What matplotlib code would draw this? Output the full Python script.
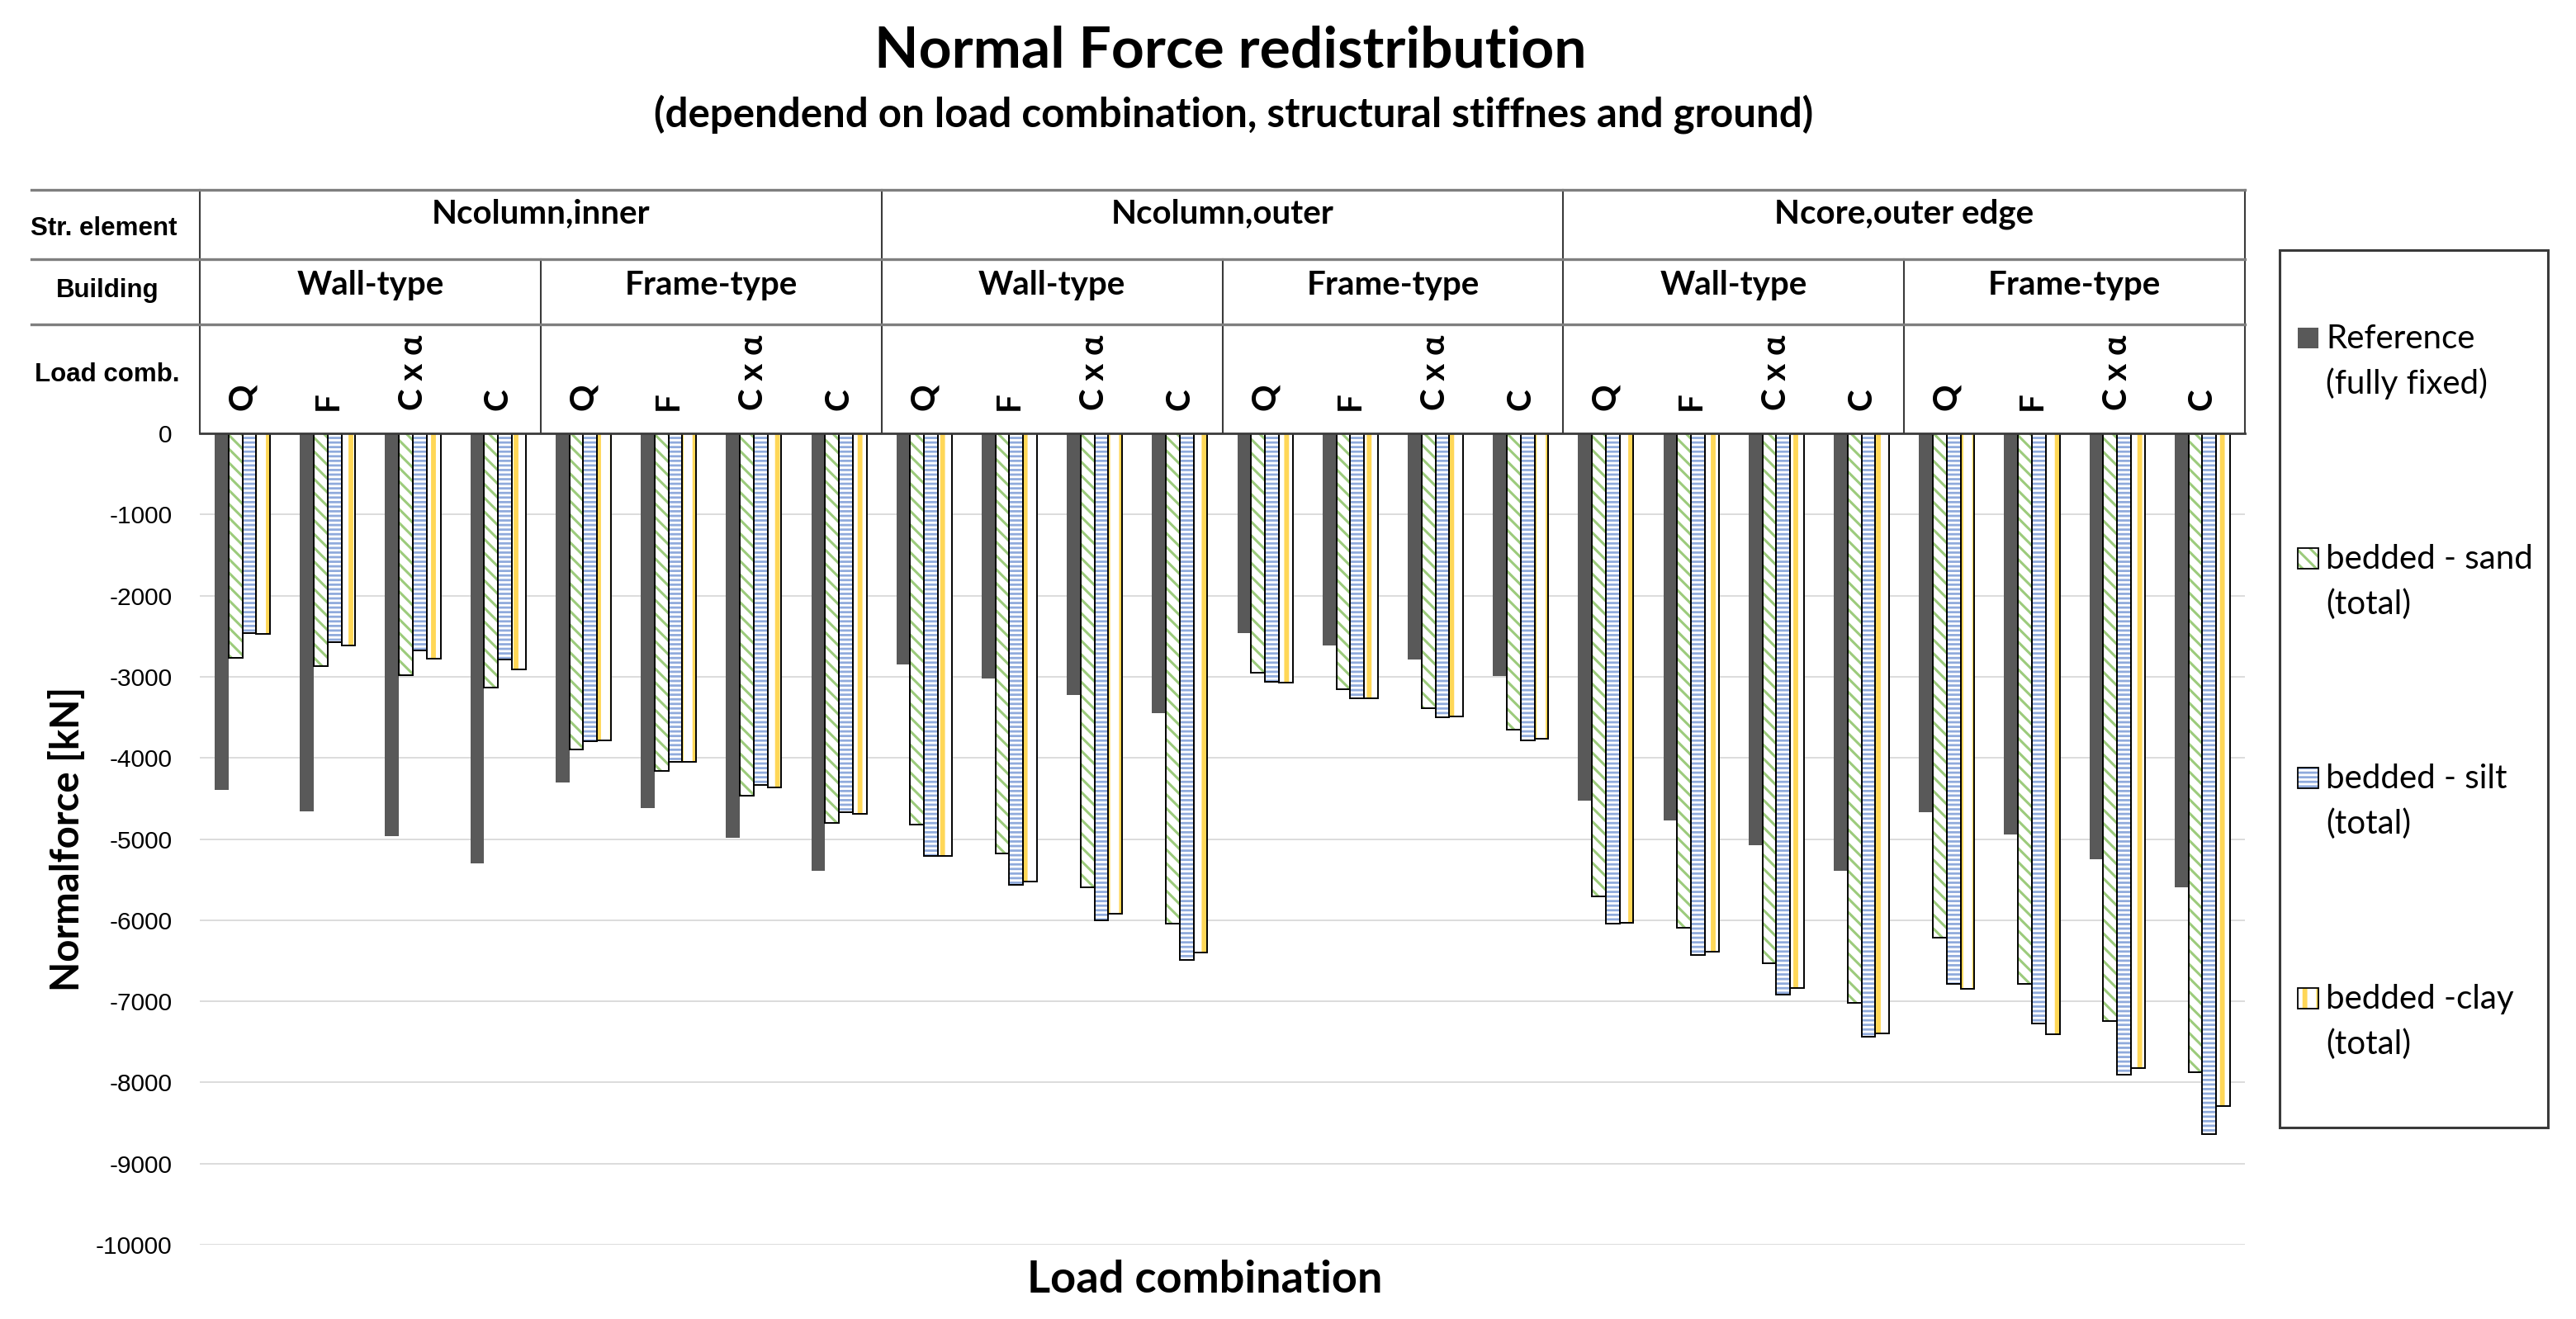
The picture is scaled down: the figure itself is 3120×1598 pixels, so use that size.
import matplotlib
matplotlib.use('Agg')
import matplotlib.pyplot as plt
import matplotlib.transforms as mtransforms
from matplotlib.patches import Rectangle
from matplotlib.lines import Line2D
import numpy as np

# ---------------- data ----------------
elements = ['Ncolumn,inner', 'Ncolumn,outer', 'Ncore,outer edge']
buildings = ['Wall-type', 'Frame-type']
load_combs = ['Q', 'F', 'C x α', 'C']

reference = [-4390, -4660, -4960, -5305, -4305, -4617, -4983, -5390,
             -2848, -3017, -3221, -3448, -2458, -2610, -2787, -2990,
             -4530, -4776, -5073, -5390, -4674, -4940, -5245, -5593]
sand = [-2763, -2865, -2983, -3136, -3898, -4159, -4464, -4797,
        -4824, -5176, -5593, -6041, -2949, -3153, -3383, -3651,
        -5709, -6091, -6534, -7017, -6211, -6781, -7246, -7870]
silt = [-2458, -2570, -2678, -2790, -3796, -4044, -4329, -4671,
        -5210, -5560, -6007, -6492, -3061, -3261, -3502, -3780,
        -6044, -6429, -6915, -7434, -6781, -7272, -7900, -8633]
clay = [-2475, -2617, -2780, -2905, -3786, -4051, -4363, -4688,
        -5204, -5526, -5916, -6397, -3068, -3261, -3492, -3763,
        -6037, -6393, -6835, -7391, -6843, -7406, -7824, -8296]

series_labels = [['Reference', '(fully fixed)'], ['bedded - sand', '(total)'],
                 ['bedded - silt', '(total)'], ['bedded -clay', '(total)']]
yticks = list(range(-10000, 1, 1000))

# ---------------- style ----------------
W, H = 3120, 1598
FONT = ['Lato', 'DejaVu Sans']
ARIAL = ['Liberation Sans', 'DejaVu Sans']
ref_color = '#595959'
styles = [
    dict(kind='solid', color=ref_color),
    dict(kind='hatch', hatch='\\\\', hcolor='#9CCB7C', hlw=2.2),
    dict(kind='hatch', hatch='---', hcolor='#8FAADC', hlw=2.0),
    dict(kind='hatch', hatch='|', hcolor='#FFD757', hlw=4.2),
]
plt.rcParams['hatch.linewidth'] = 2.4


def fx(p):
    return p / W


def fy(p):
    return 1 - p / H


def set_hlw(patches, lw):
    for p in patches:
        if hasattr(p, 'set_hatch_linewidth'):
            p.set_hatch_linewidth(lw)


fig = plt.figure(figsize=(W / 100, H / 100), dpi=100)
ax_left, ax_right, ax_top, ax_bot = 242, 2719, 525, 1508
ax = fig.add_axes([fx(ax_left), fy(ax_bot), (ax_right - ax_left) / W, (ax_bot - ax_top) / H])

n = len(reference)
x = np.arange(n)
bw = 0.1625
data = [reference, sand, silt, clay]
for k, (vals, st) in enumerate(zip(data, styles)):
    xs = x + (k - 1.5) * bw
    if st['kind'] == 'solid':
        ax.bar(xs, vals, bw, color=st['color'], linewidth=0, zorder=2)
    else:
        with plt.rc_context({'hatch.linewidth': st['hlw']}):
            bars = ax.bar(xs, vals, bw, facecolor='white', edgecolor=st['hcolor'],
                          hatch=st['hatch'], linewidth=0, zorder=2)
        set_hlw(bars, st['hlw'])
        ax.bar(xs, vals, bw, facecolor='none', edgecolor='black', linewidth=1.4, zorder=3)

ax.set_xlim(-0.5, n - 0.5)
ax.set_ylim(-10000, 0)
ax.set_yticks(yticks)
ax.set_yticklabels([str(v) for v in yticks], fontfamily=ARIAL, fontsize=21.5)
ax.tick_params(axis='y', length=0, pad=24)
ax.set_xticks([])
for s in ax.spines.values():
    s.set_visible(False)
ax.yaxis.grid(True, color='#d9d9d9', linewidth=1.3)
ax.set_axisbelow(True)

ax.set_ylabel('Normalforce [kN]', fontfamily=FONT, fontsize=34, fontweight='bold')
ax.yaxis.set_label_coords((104 - ax_left) / (ax_right - ax_left), 0.5)
ax.set_xlabel('Load combination', fontfamily=FONT, fontsize=39, fontweight='bold')
ax.xaxis.set_label_coords((1459 - ax_left) / (ax_right - ax_left), -(1526 - ax_bot) / (ax_bot - ax_top))

# ---------------- titles ----------------
fig.text(fx(1490), fy(82), 'Normal Force redistribution', ha='center', va='baseline',
         fontfamily=FONT, fontsize=50, fontweight='bold')
fig.text(fx(1494), fy(153), '(dependend on load combination, structural stiffnes and ground)',
         ha='center', va='baseline', fontfamily=FONT, fontsize=35.5, fontweight='bold')

# ---------------- header table ----------------
bt = mtransforms.blended_transform_factory(ax.transData, fig.transFigure)
row_y = [230, 314, 393, 525]
grey = '#7f7f7f'
dark = '#3a3a3a'
for yy in row_y[:3]:
    fig.add_artist(Line2D([fx(38), fx(ax_right)], [fy(yy), fy(yy)], color=grey, lw=2.4,
                          transform=fig.transFigure))
ax.add_line(Line2D([-0.5, n - 0.5], [fy(525), fy(525)], color=dark, lw=2.0,
                   transform=bt, clip_on=False, zorder=5))
ncomb = len(load_combs)
nsub = ncomb * len(buildings)
for b in range(0, n + 1, ncomb):
    top = row_y[0] if b % nsub == 0 else row_y[1]
    ax.add_line(Line2D([b - 0.5, b - 0.5], [fy(top), fy(525)], color=dark, lw=1.5,
                       transform=bt, clip_on=False, zorder=5))

for e, name in enumerate(elements):
    ax.text(e * nsub + (nsub - 1) / 2, fy(270), name, transform=bt, ha='center', va='baseline',
            fontfamily=FONT, fontsize=29, fontweight='bold')
for g in range(len(elements) * len(buildings)):
    ax.text(g * ncomb + (ncomb - 1) / 2, fy(357), buildings[g % 2], transform=bt, ha='center',
            va='baseline', fontfamily=FONT, fontsize=29, fontweight='bold')
for i in range(n):
    ax.text(i, fy(497), load_combs[i % ncomb], transform=bt, rotation=90, ha='center', va='bottom',
            fontfamily=FONT, fontsize=29, fontweight='bold')

fig.text(fx(126), fy(285), 'Str. element', ha='center', va='baseline', fontfamily=ARIAL,
         fontsize=22.5, fontweight='bold')
fig.text(fx(130), fy(360), 'Building', ha='center', va='baseline', fontfamily=ARIAL,
         fontsize=22.5, fontweight='bold')
fig.text(fx(130), fy(462), 'Load comb.', ha='center', va='baseline', fontfamily=ARIAL,
         fontsize=22.5, fontweight='bold')

# ---------------- legend ----------------
fig.add_artist(Rectangle((fx(2761), fy(1366)), fx(3086) - fx(2761), fy(303) - fy(1366),
                         transform=fig.transFigure, facecolor='none', edgecolor=dark, lw=2.2))
for k, (lab, st) in enumerate(zip(series_labels, styles)):
    base = 422 + k * 266.7
    px0, size = 2783, 25
    rect = (fx(px0), fy(base)), fx(px0 + size) - fx(px0), fy(base - size) - fy(base)
    if st['kind'] == 'solid':
        fig.add_artist(Rectangle(*rect, transform=fig.transFigure, facecolor=st['color'], lw=0))
    else:
        with plt.rc_context({'hatch.linewidth': st['hlw']}):
            hp = Rectangle(*rect, transform=fig.transFigure, facecolor='white',
                           edgecolor=st['hcolor'], hatch=st['hatch'], lw=0)
        set_hlw([hp], st['hlw'])
        fig.add_artist(hp)
        fig.add_artist(Rectangle(*rect, transform=fig.transFigure, facecolor='none',
                                 edgecolor='black', lw=1.3))
    fig.text(fx(2817), fy(base), lab[0], ha='left', va='baseline', fontfamily=FONT, fontsize=29)
    fig.text(fx(2817), fy(base + 55), lab[1], ha='left', va='baseline', fontfamily=FONT, fontsize=29)

fig.savefig('out.png', dpi=100)
